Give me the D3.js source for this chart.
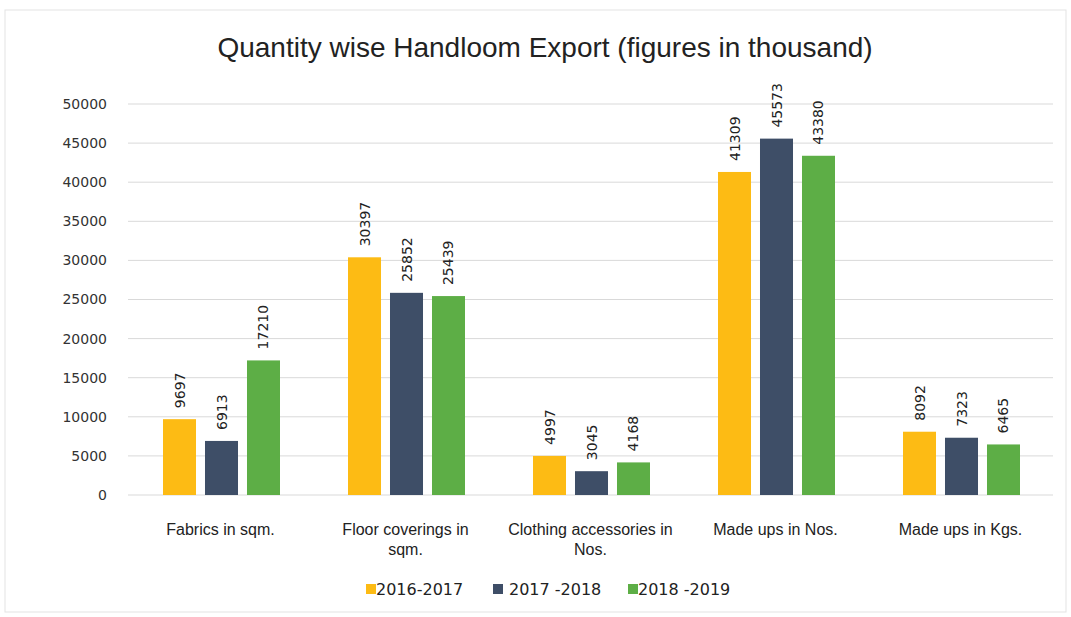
<!DOCTYPE html>
<html>
<head>
<meta charset="utf-8">
<script src="https://cdn.jsdelivr.net/npm/d3@7"></script>
<style>
  body { margin: 0; background: #fff; }
  text { font-family: "Liberation Sans", sans-serif; }
</style>
</head>
<body>
<svg id="chart"></svg>
<script>
// chart data
const categories = [["Fabrics in sqm."], ["Floor coverings in", "sqm."], ["Clothing accessories in", "Nos."], ["Made ups in Nos."], ["Made ups in Kgs."]];
const seriesNames = ["2016-2017", "2017 -2018", "2018 -2019"];
const values2016 = [9697, 30397, 4997, 41309, 8092];
const values2017 = [6913, 25852, 3045, 45573, 7323];
const values2018 = [17210, 25439, 4168, 43380, 6465];
const yTicks = [0, 5000, 10000, 15000, 20000, 25000, 30000, 35000, 40000, 45000, 50000];
const colors = ["#FDBB14", "#3E4E67", "#5DAE46"];

const width = 1071, height = 617;
const svg = d3.select("#chart").attr("width", width).attr("height", height);

// outer frame
svg.append("rect")
   .attr("x", 5).attr("y", 10)
   .attr("width", 1061).attr("height", 602)
   .attr("fill", "#fff")
   .attr("stroke", "#e3e3e3");

const plotLeft = 128, plotRight = 1053, plotTop = 104, plotBottom = 495;

const x = d3.scaleBand().domain(d3.range(categories.length)).range([plotLeft, plotRight]);
const xInner = d3.scaleBand().domain(d3.range(3)).range([35, x.bandwidth() - 33]).paddingInner(0.214);
const y = d3.scaleLinear().domain([0, 50000]).range([plotBottom, plotTop]);

// title
svg.append("text")
   .attr("x", 545).attr("y", 57)
   .attr("text-anchor", "middle")
   .attr("font-size", 28)
   .attr("fill", "#222")
   .text("Quantity wise Handloom Export (figures in thousand)");

// gridlines
svg.selectAll(".grid")
   .data(yTicks)
   .enter()
   .append("line")
   .attr("x1", plotLeft).attr("x2", plotRight)
   .attr("y1", d => y(d)).attr("y2", d => y(d))
   .attr("stroke", "#d9d9d9")
   .attr("stroke-width", 1);

// y axis labels
const yAxis = d3.axisLeft(y).tickValues(yTicks).tickSize(0).tickPadding(21).tickFormat(d3.format("d"));
const yg = svg.append("g").attr("transform", `translate(${plotLeft},0)`).call(yAxis);
yg.select(".domain").remove();
yg.selectAll("text").attr("fill", "#333")
  .style("font-family", "'DejaVu Sans', sans-serif").attr("font-size", 14);

// bars
const series = [values2016, values2017, values2018];
series.forEach((vals, s) => {
    const g = svg.append("g");
    g.selectAll("rect")
     .data(vals)
     .enter()
     .append("rect")
     .attr("x", (d, i) => x(i) + xInner(s))
     .attr("y", d => y(d))
     .attr("width", xInner.bandwidth())
     .attr("height", d => y(0) - y(d))
     .attr("fill", colors[s]);

    g.selectAll("text")
     .data(vals)
     .enter()
     .append("text")
     .attr("transform", (d, i) => `translate(${x(i) + xInner(s) + xInner.bandwidth() / 2 + 5},${y(d) - 11}) rotate(-90)`)
     .attr("text-anchor", "start")
     .style("font-family", "'DejaVu Sans', sans-serif")
     .attr("font-size", 14)
     .attr("fill", "#222")
     .text(d => d);
});

// x labels
categories.forEach((lines, i) => {
    const t = svg.append("text")
       .attr("x", x(i) + x.bandwidth() / 2)
       .attr("y", 535)
       .attr("text-anchor", "middle")
       .attr("font-size", 16)
       .attr("fill", "#222");
    lines.forEach((l, j) => {
        t.append("tspan")
         .attr("x", x(i) + x.bandwidth() / 2)
         .attr("dy", j === 0 ? 0 : 20)
         .text(l);
    });
});

// legend
const legendX = [366, 493, 628];
seriesNames.forEach((name, s) => {
    svg.append("rect")
       .attr("x", legendX[s]).attr("y", 584)
       .attr("width", 10).attr("height", 10)
       .attr("fill", colors[s]);
    svg.append("text")
       .attr("x", legendX[s] + (s === 1 ? 16 : 10)).attr("y", 595)
       .attr("font-size", 16)
       .style("font-family", "'DejaVu Sans', sans-serif")
       .attr("fill", "#222")
       .text(name);
});
</script>
</body>
</html>
